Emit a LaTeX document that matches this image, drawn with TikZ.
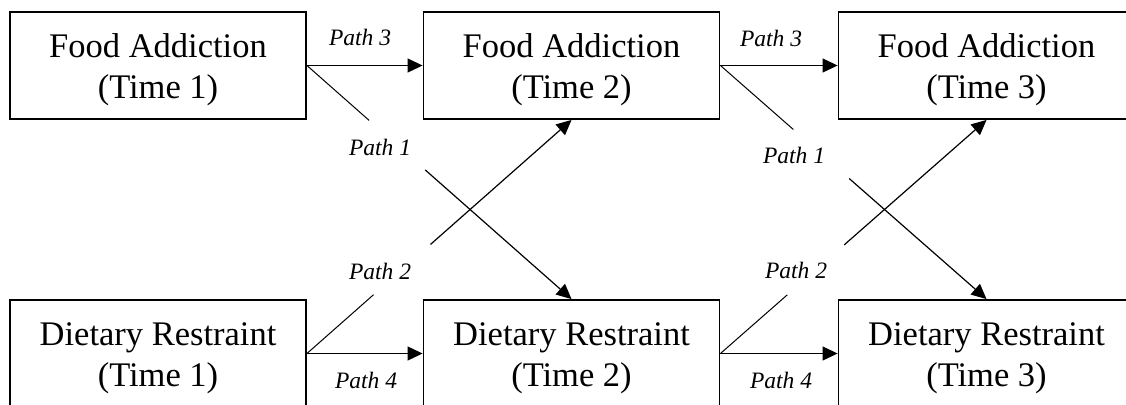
\documentclass[tikz,border=0pt]{standalone}
\usepackage{fontspec}
\setmainfont{Liberation Serif}
\usetikzlibrary{arrows.meta,calc}
\begin{document}
\begin{tikzpicture}[x=1pt,y=-1pt,
  box/.style={draw,line width=1.9pt,minimum width=296pt,minimum height=107pt,inner sep=0pt,align=center,font=\fontsize{34.5}{41}\selectfont},
  lbl/.style={font=\fontsize{23.5}{28}\selectfont\itshape,inner sep=0pt},
  arr/.style={line width=1.2pt,-{Triangle[length=15pt,width=14pt]}},
  seg/.style={line width=1pt}]
\clip (0,0) rectangle (1126,404);
\fill[white] (0,0) rectangle (1126,404);
% boxes
\node[box] (fa1) at (158,65.5) {\rule{0pt}{31.4pt}Food Addiction\\(Time 1)};
\node[box] (fa2) at (571.5,65.5) {\rule{0pt}{31.4pt}Food Addiction\\(Time 2)};
\node[box] (fa3) at (986.5,65.5) {\rule{0pt}{31.4pt}Food Addiction\\(Time 3)};
\node[box] (dr1) at (158,353.5) {\rule{0pt}{31.4pt}Dietary Restraint\\(Time 1)};
\node[box] (dr2) at (571.5,353.5) {\rule{0pt}{31.4pt}Dietary Restraint\\(Time 2)};
\node[box] (dr3) at (986.5,353.5) {\rule{0pt}{31.4pt}Dietary Restraint\\(Time 3)};
% path 3 and path 4
\draw[arr] (fa1.east) -- (fa2.west);
\draw[arr] (fa2.east) -- (fa3.west);
\draw[arr] (dr1.east) -- (dr2.west);
\draw[arr] (dr2.east) -- (dr3.west);
% path 1
\draw[seg] (fa1.east) -- ($(fa1.east)!0.235!(dr2.north)$);
\draw[arr] ($(fa1.east)!0.447!(dr2.north)$) -- (dr2.north);
\draw[seg] (fa2.east) -- ($(fa2.east)!0.274!(dr3.north)$);
\draw[arr] ($(fa2.east)!0.484!(dr3.north)$) -- (dr3.north);
% path 2
\draw[seg] (dr1.east) -- ($(dr1.east)!0.252!(fa2.south)$);
\draw[arr] ($(dr1.east)!0.467!(fa2.south)$) -- (fa2.south);
\draw[seg] (dr2.east) -- ($(dr2.east)!0.251!(fa3.south)$);
\draw[arr] ($(dr2.east)!0.465!(fa3.south)$) -- (fa3.south);
% labels
\node[lbl] (l3a) at (360,37) {Path 3};
\node[lbl] (l1a) at (380,147) {Path 1};
\node[lbl] (l2a) at (380,271) {Path 2};
\node[lbl] (l4a) at (366,380) {Path 4};
\node[lbl] (l3b) at (771,38) {Path 3};
\node[lbl] (l1b) at (794,155) {Path 1};
\node[lbl] (l2b) at (796,270) {Path 2};
\node[lbl] (l4b) at (781,380) {Path 4};
\end{tikzpicture}
\end{document}
